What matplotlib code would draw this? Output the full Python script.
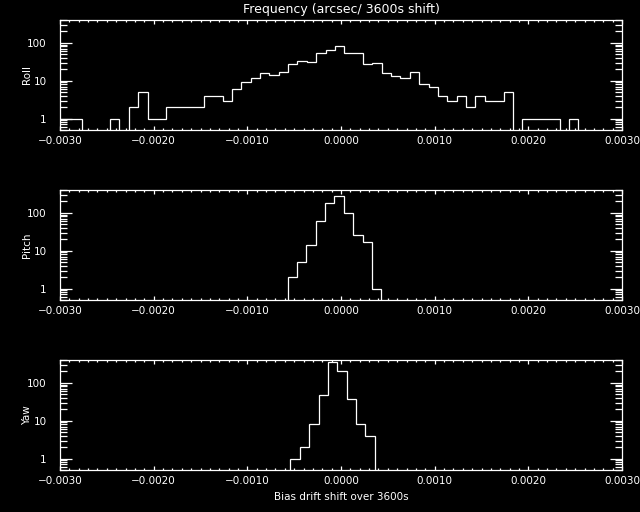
import numpy as np
import matplotlib
matplotlib.use("Agg")
import matplotlib.pyplot as plt
from matplotlib.ticker import FixedLocator, FixedFormatter, LogLocator, MultipleLocator, NullFormatter

# histogram data, bin width 0.0001 (arcsec / 3600s)
bin_width = 0.0001

roll_start = -0.003065
roll_counts = [1, 1, 1, 0, 0, 0, 1, 0, 2, 5, 1, 1, 2, 2, 2, 2, 4, 4, 3, 6,
               9, 12, 16, 14, 17, 27, 34, 32, 55, 66, 80, 55, 55, 28, 30, 16,
               13, 12, 17, 8, 7, 4, 3, 4, 2, 4, 3, 3, 5, 0, 1, 1, 1, 1, 0, 1]

pitch_start = -0.00057
pitch_counts = [2, 5, 14, 61, 181, 278, 99, 26, 17, 1]

yaw_start = -0.00054
yaw_counts = [1, 2, 8, 48, 361, 208, 38, 8, 4]

panel_names = ["Roll", "Pitch", "Yaw"]

x_ticks = [-0.003, -0.002, -0.001, 0.0, 0.001, 0.002, 0.003]
x_tick_labels = ["\u22120.0030", "\u22120.0020", "\u22120.0010", "0.0000",
                 "0.0010", "0.0020", "0.0030"]
y_ticks = [1, 10, 100]
y_tick_labels = ["1", "10", "100"]

fig = plt.figure(figsize=(6.4, 5.12), dpi=100, facecolor="black")

panels = [
    (roll_start, roll_counts, 20),
    (pitch_start, pitch_counts, 190),
    (yaw_start, yaw_counts, 360),
]

for name, (start, counts, top_px) in zip(panel_names, panels):
    ax = fig.add_axes([60 / 640, 1 - (top_px + 110) / 512, 562 / 640, 110 / 512])
    ax.set_facecolor("black")
    edges = start + bin_width * np.arange(len(counts) + 1)
    ax.set_yscale("log")
    ax.stairs(counts, edges, baseline=0, color="white", linewidth=0.9)
    ax.set_xlim(-0.003, 0.003)
    ax.set_ylim(0.5, 400)

    ax.xaxis.set_major_locator(FixedLocator(x_ticks))
    ax.xaxis.set_major_formatter(FixedFormatter(x_tick_labels))
    ax.xaxis.set_minor_locator(MultipleLocator(0.0001))
    ax.yaxis.set_major_locator(FixedLocator(y_ticks))
    ax.yaxis.set_major_formatter(FixedFormatter(y_tick_labels))
    ax.yaxis.set_minor_locator(LogLocator(base=10, subs=np.arange(2, 10)))
    ax.yaxis.set_minor_formatter(NullFormatter())

    ax.tick_params(which="both", direction="in", top=True, right=True,
                   colors="white", width=0.9, labelsize=7.5)
    ax.tick_params(axis="x", which="major", length=3, pad=4.5)
    ax.tick_params(axis="x", which="minor", length=1.5)
    ax.tick_params(axis="y", which="major", length=8.4, pad=9.5)
    ax.tick_params(axis="y", which="minor", length=4.8)
    for sp in ax.spines.values():
        sp.set_color("white")
        sp.set_linewidth(0.9)

    fig.text(26.7 / 640, 1 - (top_px + 55) / 512, name, rotation=90,
             ha="center", va="center", color="white", fontsize=7.5)

fig.text(341 / 640, 1 - 9 / 512, "Frequency (arcsec/ 3600s shift)",
         ha="center", va="center", color="white", fontsize=9)
fig.text(341 / 640, 1 - 497 / 512, "Bias drift shift over 3600s",
         ha="center", va="center", color="white", fontsize=7.5)

fig.savefig("out.png", dpi=100, facecolor="black")
